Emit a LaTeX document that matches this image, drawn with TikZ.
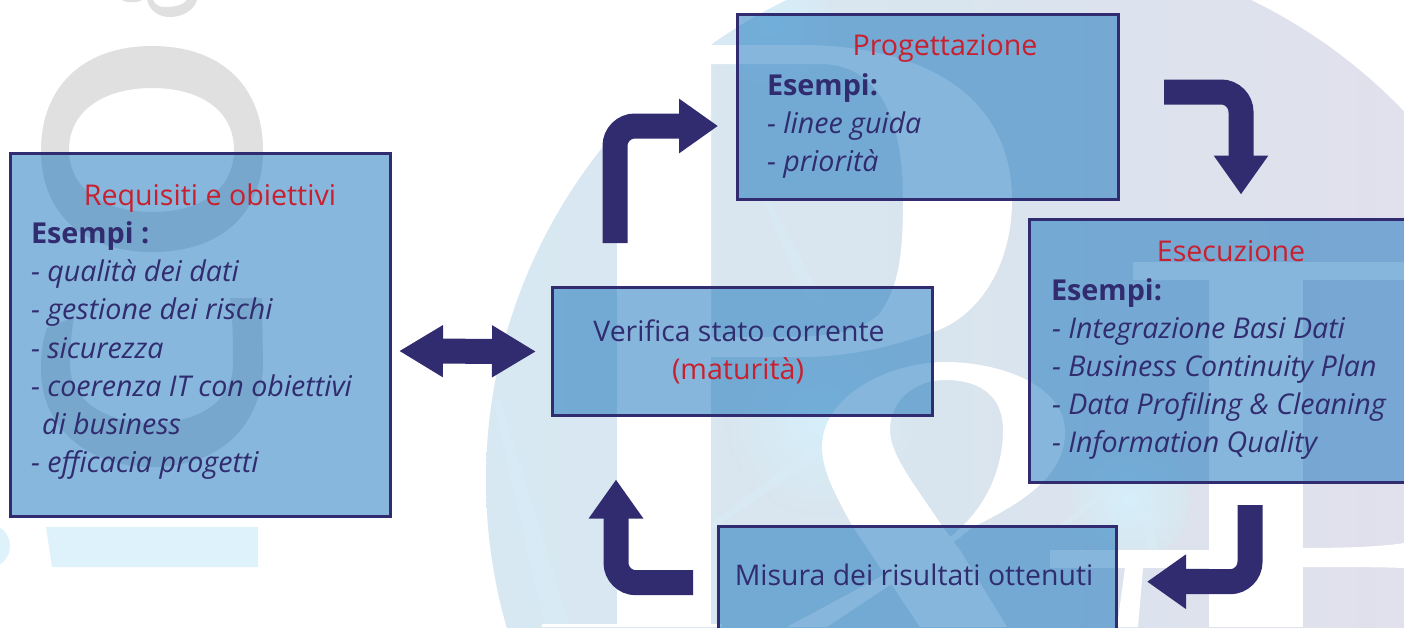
\documentclass[tikz,border=0pt]{standalone}
\usepackage{fontspec}
\setmainfont{Open Sans}
\usetikzlibrary{arrows.meta,calc}
\definecolor{ink}{HTML}{312C6F}
\definecolor{redtxt}{HTML}{C8202F}
\definecolor{boxblue}{HTML}{0F6FB9}
\definecolor{ghost}{HTML}{E0E0E0}
\definecolor{palesky}{HTML}{DDF2FB}
\definecolor{ray}{HTML}{D8EEF9}
\definecolor{discleft}{HTML}{D8E8F2}
\definecolor{discmid}{HTML}{D9E5EE}
\definecolor{discright}{HTML}{E1E0ED}
\definecolor{glow}{HTML}{D5EFFA}
\tikzset{
  x=1pt,y=-1pt,
  panel/.style={draw=ink,line width=3pt,fill=boxblue,fill opacity=.5,draw opacity=1,rectangle,inner sep=0pt,outer sep=0pt},
  line/.style={anchor=base west,inner sep=0pt,outer sep=0pt,text=ink,font=\fontsize{28.6}{36}\selectfont\itshape},
  plain/.style={anchor=base,inner sep=0pt,outer sep=0pt,text=ink,font=\fontsize{28.4}{36}\selectfont},
  head/.style={anchor=base west,inner sep=0pt,outer sep=0pt,text=ink,font=\fontsize{28.8}{36}\selectfont\bfseries},
  title/.style={anchor=base,inner sep=0pt,outer sep=0pt,text=redtxt,font=\fontsize{28.6}{36}\selectfont},
  blockarrow/.style={draw=ink,line width=25pt,rounded corners=20pt,-{Triangle[length=39pt,width=52pt]}},
  doublearrow/.style={draw=ink,line width=25pt,{Triangle[length=44pt,width=49pt]}-{Triangle[length=44pt,width=49pt]}},
  softray/.style={fill=ray,fill opacity=.45},
}
\begin{document}
\begin{tikzpicture}
\clip (0,0) rectangle (1404,627);
% faint letters on the left
\fill[ghost,even odd rule] (152,46) .. controls (225,46) and (263,90) .. (263,150) .. controls (263,215) and (220,252) .. (152,252) .. controls (85,252) and (41,215) .. (41,150) .. controls (41,90) and (80,46) .. (152,46) -- cycle
 (152,88) .. controls (200,88) and (234,110) .. (234,150) .. controls (234,190) and (200,212) .. (152,212) .. controls (105,212) and (69,190) .. (69,150) .. controls (69,110) and (105,88) .. (152,88) -- cycle;
\fill[ghost] (230,298) -- (262,298) -- (263,363) .. controls (263,425) and (220,467) .. (152,467) .. controls (85,467) and (41,425) .. (41,370) .. controls (41,350) and (43,340) .. (47,328) -- (74,317) .. controls (71,335) and (70,350) .. (70,365) .. controls (70,400) and (105,423) .. (152,423) .. controls (200,423) and (233,400) .. (233,365) .. controls (233,340) and (233,320) .. (230,298) -- cycle;
\fill[ghost] (147,0) .. controls (150,12) and (160,17) .. (170,17) .. controls (183,17) and (194,10) .. (197,0) -- (187,0) .. controls (183,5) and (175,7) .. (165,7) .. controls (158,7) and (155,4) .. (153,0) -- cycle;
\fill[ghost] (122,0) .. controls (126,3) and (138,3) .. (142,0) -- cycle;
\fill[palesky] (46,527) -- (258,527) -- (258,567) -- (52,567) -- cycle;
\fill[palesky] (-12,546) circle[radius=22];
% large disc
\begin{scope}
\clip (1019,480) circle[radius=533];
\shade[left color=discleft,right color=discright,middle color=discmid] (486,-10) rectangle (1404,640);
\shade[inner color=glow,outer color=discmid] (820,420) circle[radius=95];
\shade[inner color=glow,outer color=discmid] (1130,500) circle[radius=60];
\shade[inner color=glow,outer color=discleft] (770,25) circle[radius=60];
\end{scope}
% light rays
\fill[softray] (493,400) -- (500,400) -- (570,627) -- (545,627) -- cycle;
\fill[softray] (712,522) -- (823,440) -- (825,452) -- (712,530) -- cycle;
\fill[softray] (763,200) -- (770,200) -- (822,300) -- (806,300) -- cycle;
\fill[softray] (1057,527) -- (1107,488) -- (1110,492) -- (1065,527) -- cycle;
\fill[softray] (1135,487) -- (1146,487) -- (1158,550) -- (1148,550) -- cycle;
% white letters
\fill[white] (617,45) rectangle (711,627);
\fill[white] (542,624) rectangle (722,627);
\fill[white,even odd rule] (700,45) -- (800,45) .. controls (930,45) and (1012,100) .. (1012,200) .. controls (1012,270) and (975,320) .. (930,333) .. controls (890,347) and (850,357) .. (800,357) -- (700,357) -- cycle
 (711,64) -- (820,64) .. controls (880,64) and (903,120) .. (903,200) .. controls (903,250) and (900,285) .. (880,313) .. controls (865,330) and (830,337) .. (790,337) -- (711,337) -- cycle;
\fill[white,even odd rule] (945,362) .. controls (1000,362) and (1065,385) .. (1065,432) .. controls (1065,470) and (1035,497) .. (973,527) -- (950,540) -- (853,527) .. controls (835,495) and (822,470) .. (822,447) .. controls (822,395) and (890,362) .. (945,362) -- cycle
 (945,380) .. controls (985,380) and (1003,400) .. (1003,430) .. controls (1003,470) and (985,510) .. (950,537) -- (940,523) .. controls (915,485) and (890,455) .. (890,430) .. controls (890,400) and (915,380) .. (945,380) -- cycle;
\fill[white] (853,527) -- (945,530) -- (952,540) -- (960,550) -- (1007,627) -- (920,627) -- cycle;
\fill[white] (973,527) -- (787,627) -- (827,627) -- (950,545) -- cycle;
\fill[white] (1133,262) rectangle (1404,280);
\fill[white] (1209,270) rectangle (1303,627);
\fill[white] (1050,550) rectangle (1209,568);
\fill[white] (1125,568) -- (1143,568) -- (1138,627) -- (1117,627) -- cycle;
\fill[white] (1303,548) .. controls (1340,548) and (1380,547) .. (1404,543) -- (1404,568) .. controls (1380,567) and (1340,567) .. (1303,567) -- cycle;
% panels
\node[panel,minimum width=379.5pt,minimum height=363pt] (req) at (200.25,334.5) {};
\node[panel,minimum width=381pt,minimum height=185pt] (prog) at (927.5,106.5) {};
\node[panel,minimum width=400pt,minimum height=262.5pt] (esec) at (1229.5,350.75) {};
\node[panel,minimum width=380pt,minimum height=128pt] (ver) at (742,351.5) {};
\node[panel,minimum width=398pt,minimum height=160pt] (mis) at (917,606.7) {};
% texts
\node[title] (t1) at (210,205) {Requisiti e obiettivi};
\node[head] (t2) at (31,243) {Esempi :};
\node[line] (t3) at (31,281) {- qualità dei dati};
\node[line] (t4) at (31,319) {- gestione dei rischi};
\node[line] (t5) at (31,358) {- sicurezza};
\node[line] (t6) at (31,396) {- coerenza IT con obiettivi};
\node[line] (t7) at (42,434) {di business};
\node[line] (t8) at (31,472) {- efficacia progetti};
\node[title] (p1) at (945,55) {Progettazione};
\node[head] (p2) at (767,95) {Esempi:};
\node[line] (p3) at (767,133) {- linee guida};
\node[line] (p4) at (767,171) {- priorità};
\node[title] (e1) at (1231,261) {Esecuzione};
\node[head] (e2) at (1051,300) {Esempi:};
\node[line] (e3) at (1052,338) {- Integrazione Basi Dati};
\node[line] (e4) at (1052,376) {- Business Continuity Plan};
\node[line] (e5) at (1052,414) {- Data Profiling \& Cleaning};
\node[line] (e6) at (1052,452) {- Information Quality};
\node[plain] (v1) at (739,341) {Verifica stato corrente};
\node[title] (v2) at (738,379) {(maturità)};
\node[plain] (m1) at (914,585) {Misura dei risultati ottenuti};
% connectors
\coordinate (a1s) at ($(ver.north west)+(63,-44.5)$);
\coordinate (a1e) at ($(prog.west)+(-19,19.5)$);
\draw[blockarrow] (a1s) |- (a1e);
\coordinate (a2s) at ($(prog.east)+(46,-14.5)$);
\coordinate (a2e) at ($(esec.north west)+(211.5,-25)$);
\draw[blockarrow] (a2s) -| (a2e);
\coordinate (a3s) at ($(esec.south west)+(220.5,23)$);
\coordinate (a3e) at ($(mis.north east)+(31,55)$);
\draw[blockarrow] (a3s) |- (a3e);
\coordinate (a4s) at ($(mis.north west)+(-25,56)$);
\coordinate (a4e) at ($(ver.south west)+(64,64)$);
\draw[blockarrow] (a4s) -| (a4e);
\coordinate (a5s) at ($(req.east)+(9,16.5)$);
\coordinate (a5e) at ($(ver.west)+(-16,0)$);
\draw[doublearrow] (a5s) -- (a5e);
\end{tikzpicture}
\end{document}
